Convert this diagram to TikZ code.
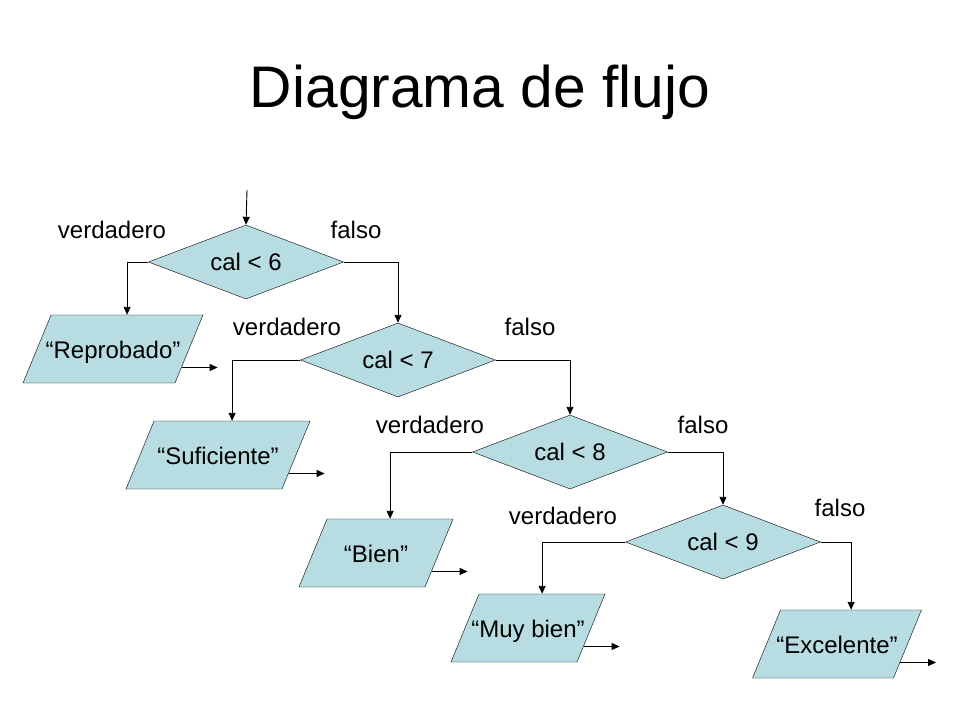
\documentclass[tikz,border=0pt]{standalone}
\usepackage{fontspec}
\setmainfont{Liberation Sans}
\usetikzlibrary{shapes.geometric,arrows.meta,calc}
\definecolor{azulcaja}{RGB}{183,221,226}

\begin{document}
\begin{tikzpicture}[x=1pt, y=-1pt,
    decision/.style={diamond, draw, fill=azulcaja, inner sep=0pt, aspect=2.6,
      minimum width=195pt, minimum height=74pt, font=\fontsize{24}{28}\selectfont},
    salida/.style={trapezium, trapezium left angle=67.6, trapezium right angle=112.4,
      trapezium stretches body=true, draw, fill=azulcaja, inner xsep=-25pt,
      text height=20pt, text depth=2pt, inner ysep=23pt,
      font=\fontsize{24}{28}\selectfont},
    etiqueta/.style={font=\fontsize{24}{28}\selectfont},
    flecha/.style={-{Triangle[length=8pt,width=7pt]}, line width=0.9pt}]
    \useasboundingbox (0,0) rectangle (960,720);

    % Titulo
    \node[font=\fontsize{58.7}{70}\selectfont] (titulo) at (480,92) {Diagrama de flujo};

    % Decisiones
    \coordinate (inicio) at (247,190);
    \node[decision] (d6) at (246,262) {cal < 6};
    \node[decision] (d7) at (398,360) {cal < 7};
    \node[decision] (d8) at (570,452) {cal < 8};
    \node[decision] (d9) at (723,542) {cal < 9};

    % Salidas
    \node[salida, minimum width=180pt] (reprobado) at (113,349) {“Reprobado”};
    \node[salida, minimum width=184pt] (suficiente) at (218,455) {“Suficiente”};
    \node[salida, minimum width=154pt] (bien) at (376,553) {“Bien”};
    \node[salida, minimum width=154pt] (muybien) at (528,628) {“Muy bien”};
    \node[salida, minimum width=169pt] (excelente) at (837,644) {“Excelente”};

    % Etiquetas
    \node[etiqueta] (v6) at (112,230) {verdadero};
    \node[etiqueta] (f6) at (356,230) {falso};
    \node[etiqueta] (v7) at (287,327) {verdadero};
    \node[etiqueta] (f7) at (530,327) {falso};
    \node[etiqueta] (v8) at (430,425) {verdadero};
    \node[etiqueta] (f8) at (703,425) {falso};
    \node[etiqueta] (v9) at (563,516) {verdadero};
    \node[etiqueta] (f9) at (840,508) {falso};

    % Conectores
    \draw[flecha] (inicio) -- (d6.north);
    \draw[flecha] (d6.west) -| (reprobado.top side);
    \draw[flecha] (d6.east) -| (d7.north);
    \draw[flecha] (d7.west) -| (suficiente.top side);
    \draw[flecha] (d7.east) -| (d8.north);
    \draw[flecha] (d8.west) -| (bien.top side);
    \draw[flecha] (d8.east) -| (d9.north);
    \draw[flecha] (d9.west) -| (muybien.top side);
    \draw[flecha] (d9.east) -| (excelente.top side);

    % Flechas de salida
    \foreach \s in {reprobado,suficiente,bien,muybien,excelente}
      \draw[flecha] ($(\s.bottom right corner)!0.23!(\s.top right corner)$) -- ++(36,0);
\end{tikzpicture}
\end{document}
